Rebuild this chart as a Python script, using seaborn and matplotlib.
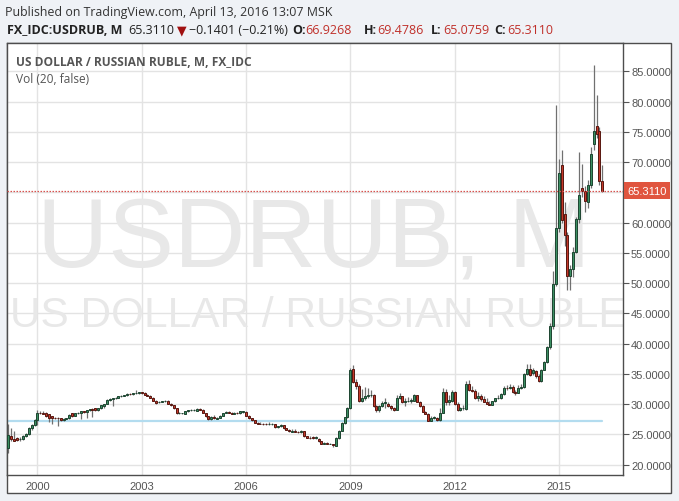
import pandas as pd
import numpy as np
import matplotlib
matplotlib.use('Agg')
import matplotlib.pyplot as plt
from matplotlib.patches import Rectangle
import seaborn as sns

sns.set_theme(style='white')
plt.rcParams['font.family'] = ['Liberation Sans', 'DejaVu Sans']

# Monthly OHLC, FX_IDC:USDRUB, from Mar 1999 to Apr 2016
opens = [
    22.7, 24.8, 24.3, 24.4, 24.2, 24.2, 24.8, 25.1, 26.0, 26.6,                  # 1999 (Mar-Dec)
    27.4, 28.6, 28.6, 28.5, 28.3, 28.0, 27.8, 27.7, 27.7, 27.45, 27.6, 27.7,     # 2000
    28.5, 28.1, 28.5, 28.6, 28.8, 28.7, 29.0, 29.15, 29.35, 29.05, 29.3, 29.7,   # 2001
    30.1, 30.75, 30.9, 31.0, 31.1, 31.3, 31.4, 31.45, 31.75, 31.7, 31.8, 31.85,  # 2002
    31.95, 31.85, 31.6, 31.4, 31.1, 30.6, 30.3, 30.4, 30.45, 30.6, 30.1, 29.8,   # 2003
    29.3, 28.5, 28.5, 28.4, 28.8, 29.0, 29.05, 28.95, 29.25, 29.05, 28.55, 28.0, # 2004
    27.5, 27.85, 27.6, 27.75, 28.1, 28.55, 28.65, 28.55, 28.45, 28.6, 28.5, 28.7,  # 2005
    28.7, 28.05, 27.7, 27.35, 26.95, 26.8, 26.8, 26.75, 26.7, 26.65, 26.7, 26.2,   # 2006
    26.35, 26.5, 26.0, 25.8, 25.46, 25.62, 25.46, 25.35, 25.5, 24.7, 24.45, 24.5,  # 2007
    24.4, 24.25, 23.86, 23.42, 23.6, 23.42, 23.42, 23.15, 24.36, 25.62, 26.89, 27.83,  # 2008
    29.3, 35.8, 33.7, 32.95, 30.6, 31.0, 31.3, 31.55, 31.6, 29.7, 29.0, 29.7,      # 2009
    30.2, 30.1, 29.7, 29.3, 29.1, 31.0, 31.3, 30.3, 30.6, 30.5, 30.6, 31.5,        # 2010
    30.4, 29.7, 28.7, 28.4, 27.3, 27.8, 27.8, 27.4, 28.6, 32.1, 30.3, 30.6,        # 2011
    32.07, 30.1, 29.1, 29.3, 29.2, 33.3, 32.4, 32.2, 31.0, 31.4, 30.8, 30.4,       # 2012
    30.1, 29.85, 30.45, 31.0, 31.1, 31.7, 32.7, 32.6, 32.9, 32.1, 31.9, 32.7,      # 2013
    32.8, 35.0, 35.8, 35.2, 35.5, 34.7, 33.8, 35.7, 37.0, 39.4, 42.9, 49.8,        # 2014
    59.1, 69.5, 61.4, 57.9, 51.2, 52.3, 55.2, 60.6, 65.8, 65.3, 63.5, 66.3,        # 2015
    73.0, 76.0, 75.1, 66.9268,                                                     # 2016 (Jan-Apr)
]
highs = [
    26.7, 26.1, 25.6, 24.6, 24.5, 24.9, 25.3, 26.2, 26.8, 27.6,
    29.0, 28.9, 28.8, 28.7, 28.4, 28.1, 27.9, 27.9, 27.8, 27.7, 27.8, 28.3,
    28.6, 28.6, 28.7, 28.9, 28.9, 29.1, 29.2, 29.3, 29.45, 29.4, 29.9, 30.1,
    30.8, 31.0, 31.1, 31.2, 31.35, 31.5, 31.6, 31.8, 31.9, 31.9, 32.3, 32.1,
    32.1, 31.95, 31.7, 31.5, 31.2, 30.7, 30.6, 30.6, 30.7, 30.7, 30.2, 29.9,
    29.4, 28.7, 28.6, 28.9, 29.1, 29.2, 29.2, 29.3, 29.35, 29.15, 28.6, 28.1,
    28.0, 28.2, 27.9, 28.2, 28.6, 28.8, 28.8, 28.7, 28.75, 28.7, 28.9, 28.9,
    28.8, 28.2, 27.8, 27.4, 27.0, 27.1, 26.9, 26.85, 27.0, 26.9, 26.75, 26.4,
    26.75, 26.55, 26.1, 25.85, 25.9, 25.85, 25.6, 25.7, 25.6, 24.8, 24.7, 24.7,
    24.7, 24.35, 23.95, 23.7, 23.7, 23.6, 23.5, 24.5, 25.7, 27.0, 27.9, 29.5,
    36.0, 36.5, 34.2, 33.3, 32.5, 32.8, 32.6, 32.3, 31.7, 29.9, 29.9, 30.5,
    31.0, 30.4, 29.9, 29.5, 31.6, 31.8, 31.4, 31.0, 31.2, 31.0, 31.7, 31.6,
    30.5, 29.8, 28.9, 28.5, 28.1, 28.1, 27.9, 29.3, 32.7, 32.5, 31.5, 32.4,
    32.2, 30.3, 29.6, 29.8, 33.9, 34.0, 33.0, 32.5, 32.0, 31.7, 31.3, 31.0,
    30.5, 30.6, 31.1, 31.5, 31.8, 33.0, 33.2, 33.4, 33.2, 32.4, 33.1, 33.3,
    35.2, 36.6, 36.6, 36.0, 35.6, 35.0, 35.8, 37.2, 39.6, 43.5, 52.0, 79.5,
    70.5, 72.0, 63.5, 58.5, 53.0, 56.0, 61.0, 71.7, 69.7, 66.0, 67.0, 72.5,
    86.0, 81.1, 75.8, 69.4786,
]
lows = [
    21.9, 24.0, 23.9, 23.9, 24.0, 24.1, 24.6, 24.9, 25.8, 26.4,
    26.5, 28.3, 28.3, 27.9, 27.0, 26.7, 27.5, 26.45, 27.3, 27.3, 27.5, 27.6,
    27.95, 28.0, 28.4, 27.6, 28.6, 27.7, 28.9, 27.9, 28.9, 28.95, 29.2, 29.4,
    30.0, 30.6, 29.7, 30.9, 31.0, 31.2, 31.3, 31.4, 31.6, 31.6, 31.7, 31.7,
    31.7, 31.5, 31.3, 31.0, 30.5, 30.1, 30.2, 30.3, 30.4, 30.0, 29.7, 29.2,
    28.4, 28.4, 28.4, 28.3, 28.7, 28.9, 28.9, 28.9, 29.0, 28.5, 27.9, 27.4,
    27.4, 27.6, 27.5, 27.7, 28.0, 28.5, 28.5, 28.3, 28.3, 28.4, 28.4, 28.6,
    28.0, 27.6, 27.3, 26.9, 26.7, 26.7, 26.6, 26.6, 26.6, 26.6, 26.15, 26.1,
    26.3, 25.95, 25.75, 25.45, 25.4, 25.4, 25.3, 25.3, 24.65, 24.35, 24.3, 24.3,
    24.3, 23.8, 23.4, 23.35, 23.4, 23.35, 23.0, 23.1, 24.3, 25.5, 26.8, 27.7,
    29.2, 33.5, 32.5, 30.4, 30.3, 30.7, 31.0, 31.2, 29.6, 28.7, 28.7, 29.5,
    29.4, 29.6, 29.1, 28.9, 29.0, 30.9, 30.2, 29.7, 30.4, 30.2, 30.5, 30.3,
    29.6, 28.7, 28.3, 27.2, 27.2, 27.6, 27.3, 27.3, 28.5, 29.8, 29.9, 30.4,
    29.9, 28.9, 28.9, 29.1, 29.1, 32.2, 32.0, 30.9, 30.6, 30.6, 30.3, 30.1,
    29.8, 29.8, 30.4, 30.9, 30.9, 31.6, 32.4, 32.5, 31.9, 31.5, 31.8, 32.5,
    32.7, 34.9, 34.6, 34.9, 34.3, 33.6, 33.7, 35.6, 36.8, 39.2, 42.5, 49.5,
    58.5, 60.0, 56.2, 48.9, 48.9, 51.0, 55.0, 60.0, 64.3, 61.8, 62.5, 65.8,
    72.0, 74.0, 66.3, 65.0759,
]
closes = [
    24.9, 24.2, 24.0, 24.1, 24.3, 24.8, 25.1, 26.0, 26.6, 27.4,
    28.5, 28.5, 28.45, 28.0, 27.8, 27.7, 27.7, 27.65, 27.4, 27.5, 27.7, 28.2,
    28.05, 28.5, 28.6, 28.8, 28.7, 29.0, 29.15, 29.0, 29.0, 29.3, 29.8, 30.05,
    30.75, 30.9, 31.0, 31.1, 31.3, 31.4, 31.5, 31.75, 31.7, 31.8, 31.9, 31.95,
    31.85, 31.6, 31.4, 31.1, 30.6, 30.2, 30.4, 30.45, 30.6, 30.1, 29.8, 29.3,
    28.5, 28.5, 28.5, 28.8, 29.0, 29.05, 29.1, 29.2, 29.1, 28.55, 28.0, 27.5,
    27.85, 27.7, 27.75, 28.1, 28.55, 28.65, 28.55, 28.45, 28.5, 28.5, 28.8, 28.8,
    28.05, 27.7, 27.35, 26.95, 26.8, 26.75, 26.65, 26.65, 26.75, 26.8, 26.2, 26.35,
    26.5, 26.0, 25.8, 25.5, 25.62, 25.46, 25.35, 25.5, 24.7, 24.4, 24.35, 24.4,
    24.5, 23.86, 23.42, 23.55, 23.5, 23.5, 23.2, 24.36, 25.62, 26.89, 27.83, 29.3,
    35.65, 33.7, 32.95, 30.6, 31.0, 31.4, 31.6, 31.6, 29.7, 29.0, 29.7, 30.2,
    30.3, 29.7, 29.3, 29.1, 31.0, 31.3, 30.3, 30.6, 30.6, 30.7, 31.5, 30.4,
    29.7, 28.7, 28.4, 27.3, 27.8, 27.9, 27.4, 28.6, 32.1, 30.3, 30.7, 32.1,
    30.1, 29.0, 29.3, 29.4, 33.3, 32.4, 32.2, 31.0, 31.4, 30.8, 30.4, 30.1,
    29.85, 30.45, 31.0, 31.1, 31.7, 32.7, 32.6, 32.9, 32.1, 31.8, 32.7, 32.8,
    35.0, 35.8, 34.9, 35.6, 34.7, 33.8, 35.7, 36.9, 39.4, 42.9, 49.8, 59.1,
    68.2, 60.4, 57.9, 51.2, 52.4, 55.2, 60.6, 64.5, 65.3, 63.6, 66.3, 71.4,
    75.1, 74.6, 66.9, 65.3110,
]

vol_ma_level = 27.2          # light blue "Vol (20)" line
year_ticks = [2000, 2003, 2006, 2009, 2012, 2015]
price_ticks = [20, 25, 30, 35, 40, 45, 50, 55, 60, 65, 70, 75, 80, 85]

months = pd.date_range('1999-03-01', periods=len(closes), freq='MS')
df = pd.DataFrame({'date': months, 'open': opens, 'high': highs,
                   'low': lows, 'close': closes})
df['up'] = df['close'] >= df['open']

W, H = 679, 502
fig = plt.figure(figsize=(W / 100, H / 100), dpi=100)
fig.patch.set_facecolor('#eff2f6')

# chart frame (plot + axis area)
fig.add_artist(Rectangle((7 / W, (H - 494) / H), 664 / W, 450.3 / H,
                         transform=fig.transFigure, facecolor='white',
                         edgecolor='#4d4d4d', lw=1, zorder=-1))

ax = fig.add_axes([7 / W, (H - 476) / H, 615.7 / W, 432.3 / H])
ax.set_facecolor('white')

# watermark
ax.text(0.049, 0.4835, 'USDRUB, M', transform=ax.transAxes, fontsize=71,
        color='#e8e8e8', va='baseline', ha='left', zorder=0.6, clip_on=True)
ax.text(0.0049, 0.3447, 'US DOLLAR / RUSSIAN RUBLE', transform=ax.transAxes,
        fontsize=30.5, color='#e8e8e8', va='baseline', ha='left', zorder=0.6,
        clip_on=True)

# volume MA line
sns.lineplot(x=df['date'], y=[vol_ma_level] * len(df), ax=ax, color='#b3dcef',
             lw=1.6, zorder=1)

# candles
up_fill, up_edge = '#3b8f62', '#1d4430'
dn_fill, dn_edge = '#c4392a', '#571710'
ax.vlines(df['date'], df['low'], df['high'], color='#707070', lw=0.9, zorder=2)
body_lo = df[['open', 'close']].min(axis=1)
body_h = (df['close'] - df['open']).abs()
ax.bar(df['date'], body_h, bottom=body_lo, width=21,
       color=np.where(df['up'], up_fill, dn_fill),
       edgecolor=np.where(df['up'], up_edge, dn_edge), lw=0.7, zorder=3)

last = closes[-1]
ax.axhline(last, color='#d9534f', ls=(0, (1.2, 1.2)), lw=0.9, zorder=4)

ax.set_xlim(pd.Timestamp('1999-02-15'), pd.Timestamp('2016-11-01'))
ax.set_ylim(18.3, 89.75)
ax.set_xticks([pd.Timestamp(f'{y}-01-01') for y in year_ticks])
ax.set_xticklabels([str(y) for y in year_ticks])
ax.set_yticks(price_ticks)
# the 65 label sits under the last-price tag, as in TradingView
ax.set_yticklabels(['' if abs(p - last) < 2 else f'{p:.4f}' for p in price_ticks])
ax.yaxis.tick_right()
ax.tick_params(axis='y', direction='out', length=4, width=0.8, color='#555555',
               labelsize=8, labelcolor='#555555', pad=2)
ax.tick_params(axis='x', length=0, labelsize=8, labelcolor='#555555', pad=4)
ax.grid(True, color='#e3e3e3', lw=1)
ax.set_axisbelow(True)
for s in ax.spines.values():
    s.set_visible(True)
    s.set_color('#4d4d4d')
    s.set_linewidth(1)
ax.set_xlabel('')
ax.set_ylabel('')

ax.annotate(f'{last:.4f}', xy=(1, last), xycoords=('axes fraction', 'data'),
            xytext=(3.6, 0), textcoords='offset points', ha='left', va='center',
            fontsize=8, color='white', annotation_clip=False, zorder=10,
            bbox=dict(boxstyle='square,pad=0.3', fc='#e0553f', ec='none'))

# texts inside the chart
ui = ['Open Sans', 'DejaVu Sans']
fig.text(16 / W, 1 - 66 / H, 'US DOLLAR / RUSSIAN RUBLE, M, FX_IDC',
         fontsize=8.6, fontweight='bold', color='#555555', family=ui, va='baseline')
fig.text(16 / W, 1 - 83 / H, 'Vol (20, false)', fontsize=8.6, color='#555555',
         family=ui, va='baseline')

# header
fig.text(5 / W, 1 - 16 / H, 'Published on TradingView.com, April 13, 2016 13:07 MSK',
         fontsize=8.9, color='#333333', family=ui, va='baseline')

red = '#c0302a'
dark = '#222222'
pieces = [
    (7, 'FX_IDC:USDRUB, M', dark, 'bold'),
    (128, '65.3110', dark, 'normal'),
    (177, '\u25BC', '#a01010', 'normal'),
    (189, '\u22120.1401 (\u22120.21%)', dark, 'normal'),
    (292, 'O:', dark, 'bold'), (305, '66.9268', red, 'normal'),
    (364, 'H:', dark, 'bold'), (377, '69.4786', red, 'normal'),
    (431, 'L:', dark, 'bold'), (443, '65.0759', red, 'normal'),
    (494, 'C:', dark, 'bold'), (507, '65.3110', red, 'normal'),
]
for px, txt, col, wt in pieces:
    fig.text(px / W, 1 - 34 / H, txt, fontsize=9, color=col, fontweight=wt,
             family=ui, va='baseline')

fig.savefig('out.png', dpi=100, facecolor=fig.get_facecolor())
